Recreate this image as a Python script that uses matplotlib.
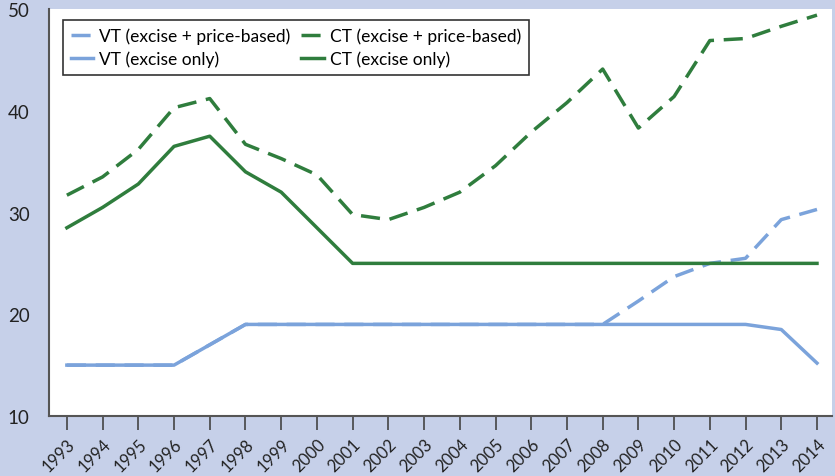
import numpy as np
import matplotlib
matplotlib.use('Agg')
import matplotlib.pyplot as plt

# データ
years = list(range(1993, 2015))

vt_excise_price = [15.0, 15.0, 15.0, 15.0, 17.0, 19.0, 19.0, 19.0, 19.0, 19.0, 19.0,
                   19.0, 19.0, 19.0, 19.0, 19.0, 21.3, 23.7, 25.0, 25.5, 29.3, 30.3]
vt_excise_only = [15.0, 15.0, 15.0, 15.0, 17.0, 19.0, 19.0, 19.0, 19.0, 19.0, 19.0,
                  19.0, 19.0, 19.0, 19.0, 19.0, 19.0, 19.0, 19.0, 19.0, 18.5, 15.2]
ct_excise_price = [31.7, 33.5, 36.2, 40.3, 41.2, 36.7, 35.3, 33.7, 29.8, 29.3, 30.5,
                   32.0, 34.6, 37.9, 40.8, 44.1, 38.3, 41.4, 46.9, 47.1, 48.3, 49.4]
ct_excise_only = [28.5, 30.5, 32.8, 36.5, 37.5, 34.0, 32.0, 28.5, 25.0, 25.0, 25.0,
                  25.0, 25.0, 25.0, 25.0, 25.0, 25.0, 25.0, 25.0, 25.0, 25.0, 25.0]

labels = ['VT (excise + price-based)', 'VT (excise only)',
          'CT (excise + price-based)', 'CT (excise only)']

# 色
bg_color = '#c6d0e9'
blue = '#7ba3db'
green = '#2f7d3d'

plt.rcParams['font.family'] = ['Lato', 'DejaVu Sans']

fig = plt.figure(figsize=(8.35, 4.77), dpi=100, facecolor=bg_color)
ax = fig.add_axes([0.0587, 0.1258, 0.9377, 0.8532])
ax.set_facecolor('white')

dash = (5.5, 2.8)
l1, = ax.plot(years, vt_excise_price, color=blue, lw=2.5, dashes=dash, label=labels[0])
l2, = ax.plot(years, vt_excise_only, color=blue, lw=2.5, label=labels[1])
l3, = ax.plot(years, ct_excise_price, color=green, lw=2.5, dashes=dash, label=labels[2])
l4, = ax.plot(years, ct_excise_only, color=green, lw=2.5, label=labels[3])

ax.set_xlim(1992.5, 2014.42)
ax.set_ylim(10, 50)
ax.set_yticks([10, 20, 30, 40, 50])
ax.set_xticks(years)
ax.set_xticklabels([str(y) for y in years], rotation=45, ha='right',
                   rotation_mode='anchor', fontsize=12, color='#222222')
ax.tick_params(axis='y', length=0, pad=14, labelsize=13.5, labelcolor='#222222')
ax.tick_params(axis='x', length=10, width=1.2, color='#444444', pad=4)

# 枠線
ax.spines['top'].set_visible(False)
ax.spines['right'].set_visible(False)
ax.spines['left'].set_color('#555555')
ax.spines['bottom'].set_color('#555555')
ax.spines['left'].set_linewidth(1.5)
ax.spines['bottom'].set_linewidth(1.5)

leg = ax.legend(handles=[l1, l2, l3, l4], ncol=2, loc='upper left',
                bbox_to_anchor=(0.0179, 0.973), borderaxespad=0, fontsize=12.5,
                handlelength=1.3, handletextpad=0.35, columnspacing=0.6,
                borderpad=0.45, labelspacing=0.35, frameon=True, fancybox=False)
leg.get_frame().set_edgecolor('black')
leg.get_frame().set_linewidth(1.2)

fig.savefig('out.png', dpi=100, facecolor=bg_color)
